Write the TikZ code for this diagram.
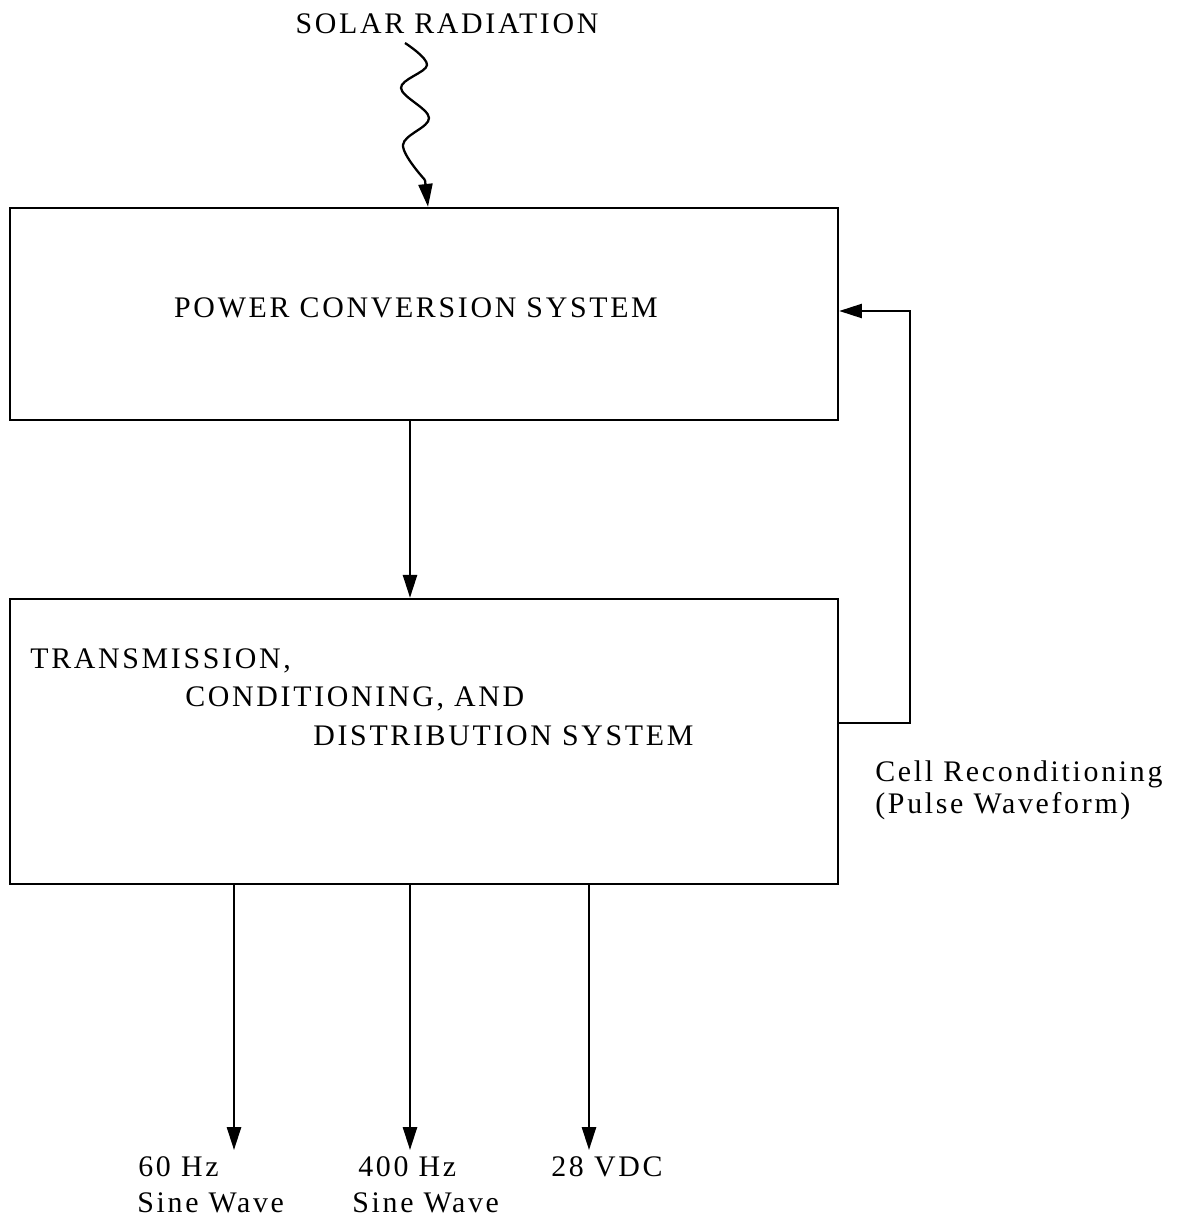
\documentclass[tikz,border=0pt]{standalone}
\usepackage{fontspec}
\setmainfont{Liberation Serif}[LetterSpace=9]
\usetikzlibrary{arrows.meta,positioning,calc}

\begin{document}
\begin{tikzpicture}[x=0.02cm,y=-0.02cm,
  font=\fontsize{17}{20}\selectfont,
  block/.style={draw, line width=1.4pt, minimum width=16.56cm},
  feed/.style={-{Triangle[length=13pt,width=8pt]}, line width=1.3pt},
  txt/.style={inner sep=0pt, anchor=base west}]
\useasboundingbox (0,0) rectangle (1198,1224);

% Blocks
\node[block, minimum height=4.24cm] (pcs) at (424,314) {};
\node[block, minimum height=5.7cm] (tcd) at (424,741.5) {};

\node (pcslbl) at (416,308) {POWER CONVERSION SYSTEM};
\node[txt] (tcd1) at (30,668) {TRANSMISSION,};
\node[txt] (tcd2) at (185,706) {CONDITIONING, AND};
\node[txt] (tcd3) at (313,745) {DISTRIBUTION SYSTEM};

% Input
\node (sun) at (447,24) {SOLAR RADIATION};
\draw[line width=1.3pt] plot[smooth, tension=0.6] coordinates
  {(405,43) (427,65) (401,88) (429,118) (403,145) (425,180)} coordinate (wv);
\draw[feed] (wv) -- (pcs.north -| 428,0);

% Main path
\draw[feed] (pcs.south -| 410,0) -- (tcd.north -| 410,0);

% Feedback loop
\coordinate (fbr) at (910,723);
\draw[feed] (tcd.east |- fbr) -- (fbr) -- (910,311) -- (pcs.east |- 0,311);
\node[txt] (cell) at (875,781) {Cell Reconditioning};
\node[txt] (pulse) at (875,813) {(Pulse Waveform)};

% Outputs
\node[txt] (o1a) at (138,1176) {60 Hz};
\node[txt] (o1b) at (137,1212) {Sine Wave};
\node[txt] (o2a) at (358,1176) {400 Hz};
\node[txt] (o2b) at (352,1212) {Sine Wave};
\node[txt] (o3a) at (551,1176) {28 VDC};
\foreach \x in {234,410,589}
  \draw[feed] (tcd.south -| \x,0) -- (\x,1150);

\end{tikzpicture}
\end{document}
